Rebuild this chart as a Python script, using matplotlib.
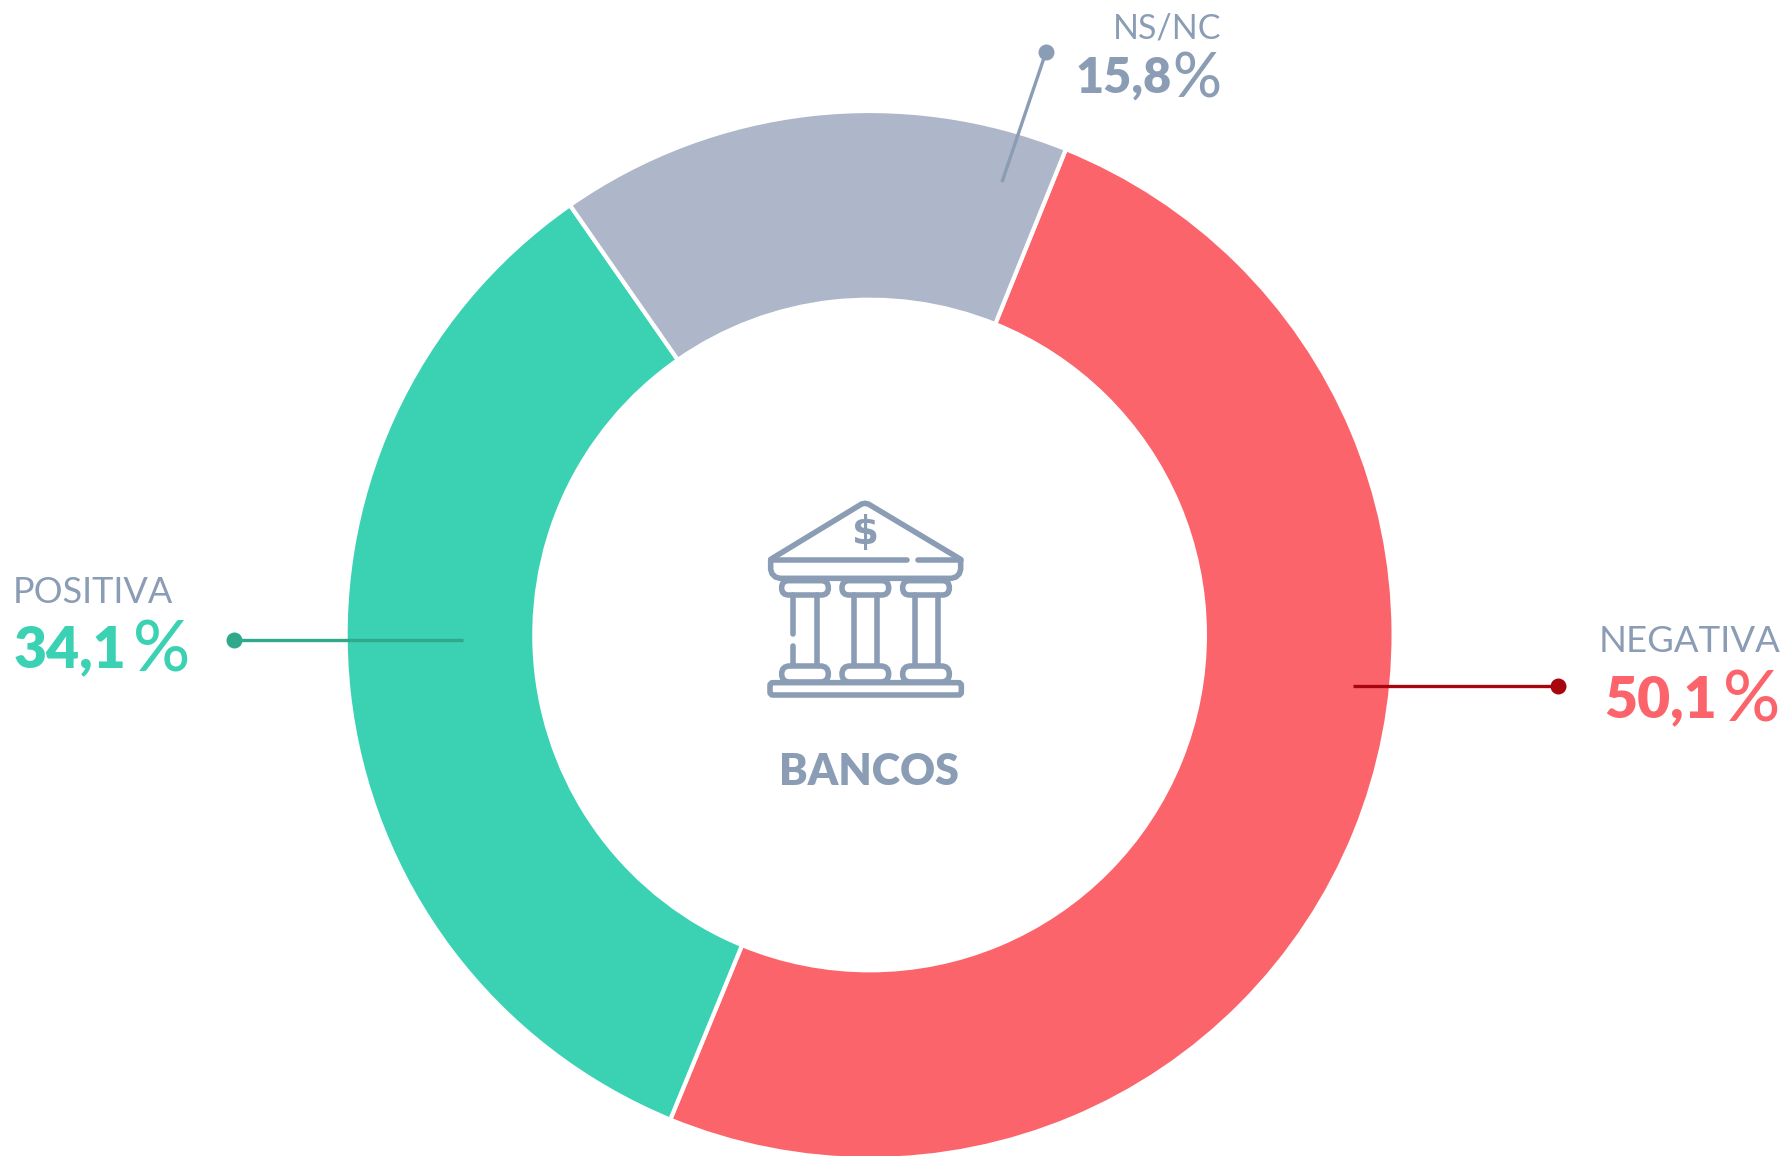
import matplotlib
matplotlib.use("Agg")
import matplotlib.pyplot as plt
from matplotlib.patches import FancyBboxPatch

# Dados
categorias = ["NEGATIVA", "POSITIVA", "NS/NC"]
valores = [50.1, 34.1, 15.8]
numeros = ["50,1", "34,1", "15,8"]
cores = ["#fc646b", "#3bd1b3", "#adb7c9"]
titulo = "BANCOS"

AZUL = "#8a9db5"
W, H = 1787, 1156

plt.rcParams["font.family"] = ["Lato", "DejaVu Sans"]

fig = plt.figure(figsize=(W / 100, H / 100), dpi=100)
ax = fig.add_axes([0, 0, 1, 1])

# rosca
ax.pie(valores, colors=cores, startangle=68, counterclock=False,
       center=(869.6, H - 635), radius=524,
       wedgeprops=dict(width=188.7, edgecolor="white", linewidth=3))
ax.set_xlim(0, W)
ax.set_ylim(0, H)
ax.set_aspect("equal")
ax.axis("off")


def linha(x0, y0, x1, y1, cor, lw=2.4):
    ax.plot([x0, x1], [H - y0, H - y1], color=cor, lw=lw, solid_capstyle="butt", zorder=5)
    ax.plot([x1], [H - y1], "o", color=cor, ms=11.5, mew=0, zorder=6)


def rotulo(x_num, x_pct, y, numero, cor, tam):
    # numero e % separados porque o % do original e maior e mais fino
    ax.text(x_num, H - y, numero, color=cor, fontsize=tam, fontweight="heavy", ha="left", va="baseline")
    ax.text(x_pct, H - y - 4, "%", color=cor, fontsize=tam * 1.25, fontweight="medium", ha="right", va="baseline")


# linhas dos rotulos
linha(463, 640, 234, 640, "#2fa88c")
linha(1353, 686, 1558, 686, "#a8060f")
linha(1002, 182, 1046, 52, AZUL)

# textos
ax.text(13, H - 603, categorias[1], color=AZUL, fontsize=26, ha="left", va="baseline")
rotulo(14, 190, 667, numeros[1], cores[1], 41)
ax.text(1780, H - 652, categorias[0], color=AZUL, fontsize=26.3, ha="right", va="baseline")
rotulo(1604, 1780, 717, numeros[0], cores[0], 41)
ax.text(1221, H - 39, categorias[2], color=AZUL, fontsize=24.5, ha="right", va="baseline")
rotulo(1076, 1221, 93, numeros[2], AZUL, 35)
ax.text(869, H - 785, titulo, color=AZUL, fontsize=31, fontweight="heavy", ha="center", va="baseline")


# icone do banco (coordenadas do recorte de zoom, escala 3x)
def zx(x):
    return 740 + x / 3


def zy(y):
    return H - (480 + y / 3)


def traco(xs, ys):
    ax.plot([zx(x) for x in xs], [zy(y) for y in ys], color=AZUL, lw=4.0,
            solid_capstyle="round", solid_joinstyle="round", zorder=4)


def caixa(x0, y0, x1, y1, raio):
    ax.add_patch(FancyBboxPatch((zx(x0), zy(y1)), (x1 - x0) / 3, (y1 - y0) / 3,
                                boxstyle=f"round,pad=0,rounding_size={raio}",
                                fc="none", ec=AZUL, lw=4.0, zorder=4))


traco([92, 355, 365, 375, 385, 395, 662], [238, 78, 72, 70, 72, 78, 238])
traco([92, 500], [241, 241])
traco([535, 662], [241, 241])
traco([92, 92, 96, 106, 120, 634, 648, 658, 662, 662], [241, 268, 281, 291, 295, 295, 291, 281, 268, 241])
for x in [125, 306, 488]:
    caixa(x, 302, x + 140, 345, 7)
    caixa(x, 558, x + 140, 606, 8)
caixa(90, 608, 664, 645, 3)
for x in [160, 342, 524]:
    if x == 160:
        traco([x, x], [345, 462])
        traco([x, x], [497, 555])
    else:
        traco([x, x], [345, 555])
    traco([x + 70, x + 70], [345, 555])

ax.text(zx(376), zy(160), "$", color=AZUL, fontsize=28, fontweight="bold",
        ha="center", va="center", family=["DejaVu Sans"], zorder=4)

fig.savefig("out.png", dpi=100, facecolor="white")
